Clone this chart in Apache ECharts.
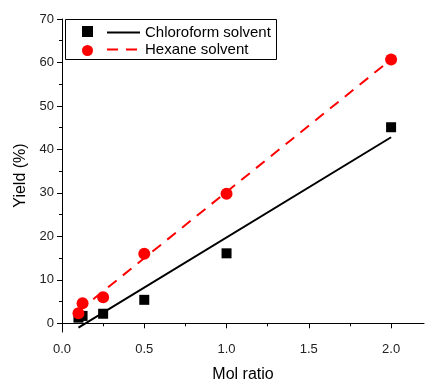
<!DOCTYPE html>
<html>
<head>
<meta charset="utf-8">
<script src="https://cdn.jsdelivr.net/npm/echarts@6/dist/echarts.min.js"></script>
<style>
  html, body { margin: 0; padding: 0; background: #fff; }
  #chart { width: 427px; height: 381px; }
</style>
</head>
<body>
<div id="chart"></div>
<script>
// data
const molRatio = [0.1, 0.125, 0.25, 0.5, 1.0, 2.0];
const chloroformYield = [1.3, 1.7, 2.2, 5.4, 16.1, 45.1];
const hexaneYield = [2.3, 4.6, 6.0, 16.0, 29.8, 60.7];

// fitted lines, end points as seen in the picture
const chloroformFit = [[0.1, -1.0], [2.0, 42.8]];
const hexaneFit = [[0.1, 2.8], [2.0, 60.7]];

const xMajorTicks = [0, 0.5, 1.0, 1.5, 2.0];
const xTickLabels = ['0.0', '0.5', '1.0', '1.5', '2.0'];
const xMinorTicks = [0.25, 0.75, 1.25, 1.75];
const yMajorTicks = [0, 10, 20, 30, 40, 50, 60, 70];
const yMinorTicks = [5, 15, 25, 35, 45, 55, 65];

const font = 'Arial, "Liberation Sans", sans-serif';

const chart = echarts.init(document.getElementById('chart'));

const pairs = (xs, ys) => xs.map((x, i) => [x, ys[i]]);

function xLabel(v) {
  const i = xMajorTicks.findIndex(t => Math.abs(t - v) < 1e-6);
  return i >= 0 ? xTickLabels[i] : '';
}

const option = {
  backgroundColor: '#fff',
  animation: false,
  // keep the grid where it is, don't let v6 shrink it to fit names
  grid: { left: 62, right: 3, top: 19, bottom: 49, outerBoundsMode: 'none' },
  xAxis: [
    {
      type: 'value',
      min: 0,
      max: 2.2,
      name: 'Mol ratio',
      nameLocation: 'middle',
      nameGap: 35,
      nameTextStyle: { fontFamily: font, fontSize: 16, color: '#000' },
      axisLine: { lineStyle: { color: '#000', width: 1 } },
      axisTick: { show: true, length: 5, customValues: xMajorTicks, lineStyle: { color: '#000' } },
      splitLine: { show: false },
      axisLabel: {
        fontFamily: font, fontSize: 13, color: '#222', margin: 11,
        customValues: xMajorTicks,
        formatter: xLabel
      }
    },
    {
      // short minor ticks only
      type: 'value',
      min: 0,
      max: 2.2,
      position: 'bottom',
      axisLine: { show: false },
      axisTick: { show: true, length: 3, customValues: xMinorTicks, lineStyle: { color: '#000' } },
      splitLine: { show: false },
      axisLabel: { show: false, customValues: xMinorTicks }
    }
  ],
  yAxis: [
    {
      type: 'value',
      min: -2,
      max: 70,
      name: 'Yield (%)',
      nameLocation: 'middle',
      nameGap: 32,
      nameTextStyle: { fontFamily: font, fontSize: 16, color: '#000' },
      axisLine: { show: true, lineStyle: { color: '#000', width: 1 } },
      axisTick: { show: true, length: 5, customValues: yMajorTicks, lineStyle: { color: '#000' } },
      splitLine: { show: false },
      axisLabel: {
        fontFamily: font, fontSize: 13, color: '#222', margin: 8,
        customValues: yMajorTicks
      }
    },
    {
      type: 'value',
      min: -2,
      max: 70,
      position: 'left',
      axisLine: { show: false },
      axisTick: { show: true, length: 3, customValues: yMinorTicks, lineStyle: { color: '#000' } },
      splitLine: { show: false },
      axisLabel: { show: false, customValues: yMinorTicks }
    }
  ],
  legend: [
    {
      left: 77, top: 21,
      orient: 'vertical',
      itemGap: 8,
      itemWidth: 11, itemHeight: 11,
      data: ['Chloroform data', 'Hexane data'],
      formatter: () => '',
      selectedMode: false
    },
    {
      left: 101, top: 20,
      orient: 'vertical',
      itemGap: 2,
      itemWidth: 33, itemHeight: 16,
      data: ['Chloroform solvent', 'Hexane solvent'],
      itemStyle: { color: 'rgba(0,0,0,0)', borderColor: 'rgba(0,0,0,0)', borderWidth: 0 },
      textStyle: { fontFamily: font, fontSize: 15, color: '#000' },
      selectedMode: false
    }
  ],
  graphic: [
    {
      type: 'rect',
      shape: { x: 65.5, y: 19.5, width: 211, height: 40 },
      style: { fill: '#fff', stroke: '#000', lineWidth: 1 },
      z: 1
    }
  ],
  series: [
    {
      name: 'Chloroform solvent',
      type: 'line',
      data: chloroformFit,
      symbol: 'none',
      lineStyle: { color: '#000', width: 2 },
      itemStyle: { color: '#000' },
      z: 3
    },
    {
      name: 'Hexane solvent',
      type: 'line',
      data: hexaneFit,
      symbol: 'none',
      lineStyle: { color: '#ff0000', width: 2, type: [11, 8] },
      itemStyle: { color: '#ff0000' },
      z: 3
    },
    {
      name: 'Chloroform data',
      type: 'scatter',
      data: pairs(molRatio, chloroformYield),
      symbol: 'rect',
      symbolSize: 10,
      itemStyle: { color: '#000', opacity: 1 },
      z: 4
    },
    {
      name: 'Hexane data',
      type: 'scatter',
      data: pairs(molRatio, hexaneYield),
      symbol: 'circle',
      symbolSize: 12,
      itemStyle: { color: '#ff0000', opacity: 1 },
      z: 4
    }
  ]
};

chart.setOption(option);
</script>
</body>
</html>
